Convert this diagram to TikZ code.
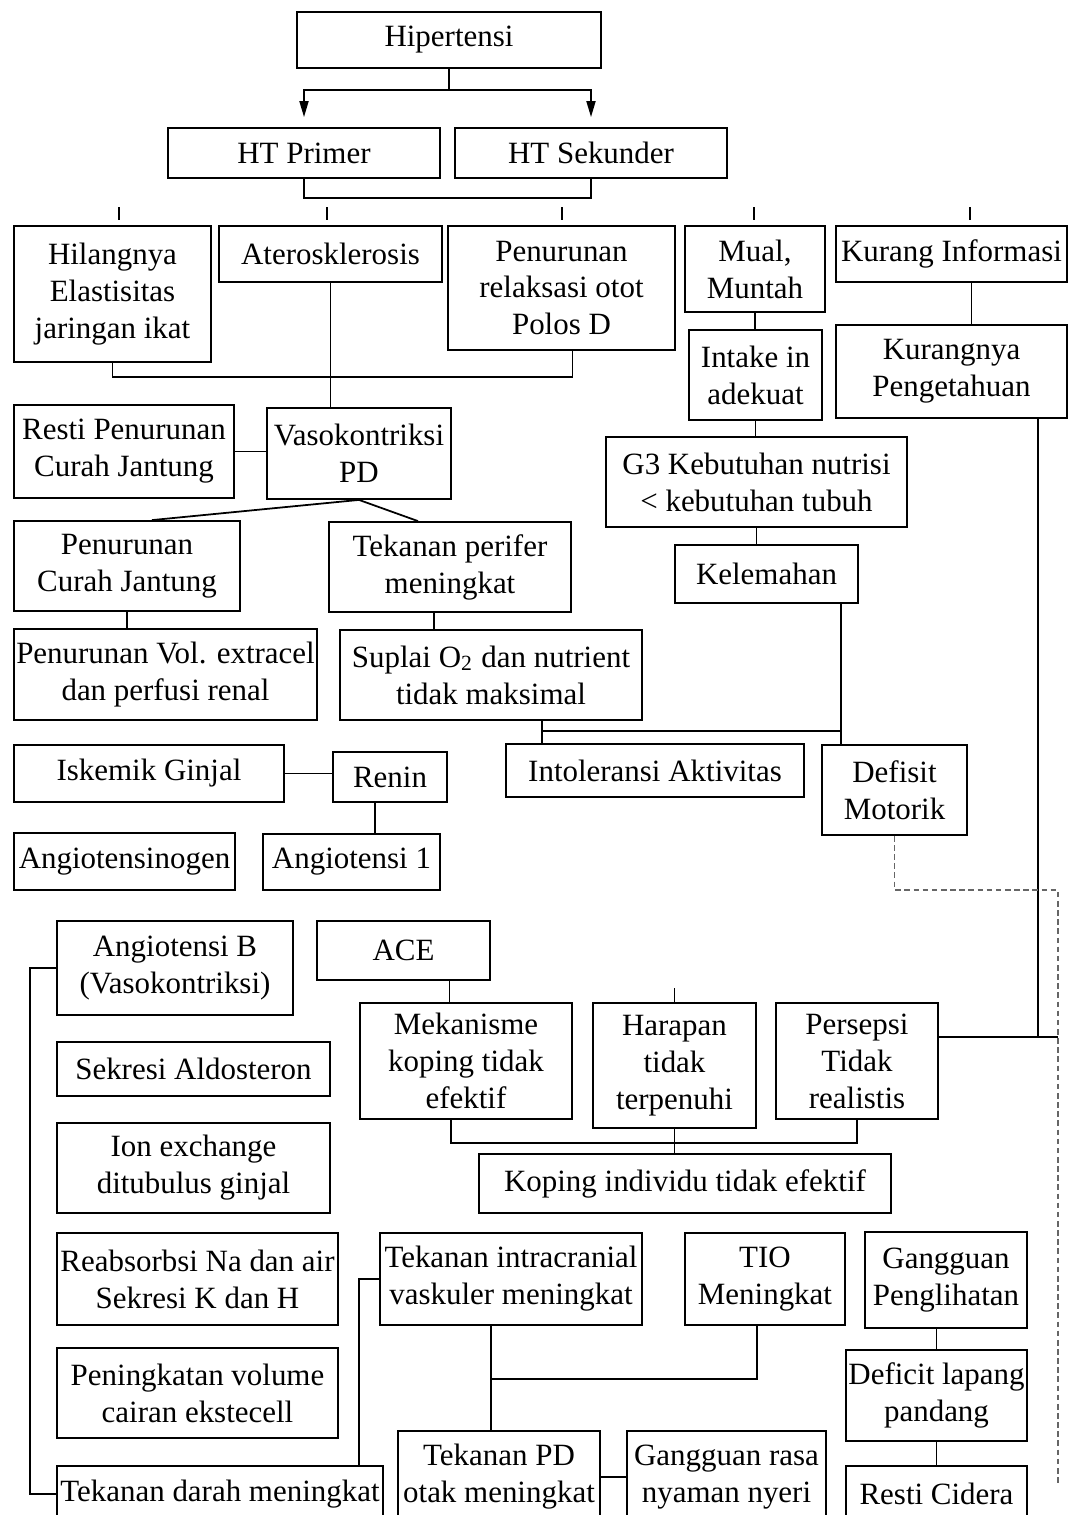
\documentclass[tikz,border=0pt]{standalone}
\usepackage{fontspec}
\setmainfont{Liberation Serif}
\usetikzlibrary{positioning,calc,arrows.meta}

\tikzset{
    box/.style={draw, line width=0.5pt, align=center, inner sep=0pt, font=\fontsize{8.8}{10.5}\selectfont},
    link/.style={line width=0.5pt},
    arr/.style={link, -{Triangle[length=0.16cm, width=0.09cm]}, shorten >=0.1cm}
}

\begin{document}
\begin{tikzpicture}[x=0.01cm, y=-0.01cm]
    \useasboundingbox (0, 0) rectangle (1069, 1515);
    \clip (0, 0) rectangle (1069, 1515);

    % Top
    \node [box, minimum width=3.04cm, minimum height=0.56cm] (hip) at (449, 40) {Hipertensi};
    \node [box, minimum width=2.72cm, minimum height=0.50cm] (prim) at (304, 153) {HT Primer};
    \node [box, minimum width=2.72cm, minimum height=0.50cm] (sek) at (591, 153) {HT Sekunder};
    \coordinate (split) at (449, 90);
    \draw [link] (hip.south) -- (split);
    \draw [arr] (split) -| (prim.north);
    \draw [arr] (split) -| (sek.north);
    \draw [link] (prim.south) -- ++(0, 19) -| (sek.south);
    \foreach \x in {119, 327, 562, 754, 970}
        \draw [link] (\x, 207) -- (\x, 220);

    % Causes
    \node [box, minimum width=1.97cm, minimum height=1.36cm] (hil) at (112.5, 294) {Hilangnya\\Elastisitas\\jaringan ikat};
    \node [box, minimum width=2.23cm, minimum height=0.56cm] (ater) at (330.5, 254) {Aterosklerosis};
    \node [box, minimum width=2.27cm, minimum height=1.24cm] (relak) at (561.5, 288) {Penurunan\\relaksasi otot\\Polos D};
    \node [box, minimum width=1.40cm, minimum height=0.86cm] (mual) at (755, 269) {Mual,\\Muntah};
    \node [box, minimum width=2.31cm, minimum height=0.56cm] (info) at (951.5, 254) {Kurang Informasi};
    \draw [link] (hil.south) -- ++(0, 14) -| ([xshift=0.11cm]relak.south);

    % Vasokontriksi
    \node [box, minimum width=2.20cm, minimum height=0.93cm] (resti) at (124, 451.5) {Resti Penurunan\\Curah Jantung};
    \node [box, minimum width=1.84cm, minimum height=0.91cm] (vaso) at (359, 453.5) {Vasokontriksi\\PD};
    \draw [link] (ater.south) -- (ater.south |- vaso.north);
    \draw [link] (resti.east) -- (resti.east -| vaso.west);
    \node [box, minimum width=2.26cm, minimum height=0.90cm] (pcj) at (127, 566) {Penurunan\\Curah Jantung};
    \node [box, minimum width=2.42cm, minimum height=0.90cm] (perifer) at (450, 567) {Tekanan perifer\\meningkat};
    \draw [link] ([xshift=0.25cm]pcj.north) -- (vaso.south) -- ([xshift=-0.32cm]perifer.north);
    \node [box, minimum width=3.03cm, minimum height=0.91cm] (vol) at (165.5, 674.5) {Penurunan Vol. extracel\\dan perfusi renal};
    \node [box, minimum width=3.02cm, minimum height=0.90cm] (suplai) at (491, 675) {Suplai O\textsubscript{2} dan nutrient\\tidak maksimal};
    \draw [link] (pcj.south) -- (pcj.south |- vol.north);
    \draw [link] ([xshift=-0.16cm]perifer.south) -- ([xshift=-0.16cm]perifer.south |- suplai.north);

    % Nutrisi
    \node [box, minimum width=1.33cm, minimum height=0.90cm] (intake) at (755.5, 375) {Intake in\\adekuat};
    \node [box, minimum width=2.31cm, minimum height=0.93cm] (tahu) at (951.5, 371.5) {Kurangnya\\Pengetahuan};
    \node [box, minimum width=3.01cm, minimum height=0.90cm] (nutri) at (756.5, 482) {G3 Kebutuhan nutrisi\\< kebutuhan tubuh};
    \node [box, minimum width=1.83cm, minimum height=0.58cm] (lemah) at (766.5, 574) {Kelemahan};
    \draw [link] (mual.south) -- (mual.south |- intake.north);
    \draw [link] ([xshift=0.2cm]info.south) -- ([xshift=0.2cm]tahu.north);
    \draw [link] (intake.south) -- (intake.south |- nutri.north);
    \draw [link] (nutri.south) -- (nutri.south |- lemah.north);

    % Aktivitas
    \node [box, minimum width=2.98cm, minimum height=0.53cm] (intol) at (655, 770.5) {Intoleransi Aktivitas};
    \node [box, minimum width=1.45cm, minimum height=0.90cm] (motorik) at (894.5, 790) {Defisit\\Motorik};
    \coordinate (lm) at ([xshift=-0.18cm]lemah.south east);
    \coordinate (sp) at ([xshift=0.51cm]suplai.south);
    \coordinate (tj) at (542, 731);
    \draw [link] (lm) -- (lm |- motorik.north);
    \draw [link] (sp) -- (sp |- intol.north);
    \draw [link] (tj) -- (tj -| lm);

    % Renin
    \node [box, minimum width=2.70cm, minimum height=0.57cm] (iskemik) at (149, 773.5) {Iskemik Ginjal};
    \node [box, minimum width=1.14cm, minimum height=0.50cm] (renin) at (390, 777) {Renin};
    \node [box, minimum width=2.21cm, minimum height=0.57cm] (angtg) at (124.5, 861.5) {Angiotensinogen};
    \node [box, minimum width=1.77cm, minimum height=0.56cm] (ang1) at (351.5, 862) {Angiotensi 1};
    \draw [link] (iskemik.east) -- (iskemik.east -| renin.west);
    \draw [link] ([xshift=-0.15cm]renin.south) -- ([xshift=-0.15cm]renin.south |- ang1.north);

    % Koping
    \node [box, minimum width=2.36cm, minimum height=0.94cm] (angB) at (175, 968) {Angiotensi B\\(Vasokontriksi)};
    \node [box, minimum width=1.73cm, minimum height=0.59cm] (ace) at (403.5, 950.5) {ACE};
    \node [box, minimum width=2.12cm, minimum height=1.16cm] (meka) at (466, 1061) {Mekanisme\\koping tidak\\efektif};
    \node [box, minimum width=1.63cm, minimum height=1.25cm] (harap) at (674.5, 1065.5) {Harapan\\tidak\\terpenuhi};
    \node [box, minimum width=1.62cm, minimum height=1.16cm] (persep) at (857, 1061) {Persepsi\\Tidak\\realistis};
    \node [box, minimum width=4.12cm, minimum height=0.59cm] (koping) at (685, 1183.5) {Koping individu tidak efektif};
    \draw [link] ([xshift=0.46cm]ace.south) -- ([xshift=0.46cm]ace.south |- meka.north);
    \draw [link] (harap.north) -- ++(0, -14);
    \draw [link] ([xshift=-0.15cm]meka.south) -- ++(0, 23) -| (persep.south);
    \draw [link] (harap.south) -- (harap.south |- koping.north);

    % Right side
    \coordinate (dcol) at (1058, 890);
    \coordinate (dend) at (1058, 1483);
    \coordinate (pe) at ([yshift=0.24cm]persep.east);
    \coordinate (tk) at ([xshift=0.865cm]tahu.south);
    \draw [link] (pe) -- (pe -| dcol);
    \draw [link] (tk) -- (tk |- pe);
    \draw [link, dashed, dash pattern=on 1.6pt off 1pt, gray!80!black] (motorik.south) |- (dcol) -- (dend);

    % Ginjal
    \node [box, minimum width=2.73cm, minimum height=0.54cm] (aldo) at (193.5, 1069) {Sekresi Aldosteron};
    \node [box, minimum width=2.73cm, minimum height=0.90cm] (ion) at (193.5, 1168) {Ion exchange\\ditubulus ginjal};
    \node [box, minimum width=2.81cm, minimum height=0.92cm] (reab) at (197.5, 1279) {Reabsorbsi Na dan air\\Sekresi K dan H};
    \node [box, minimum width=2.81cm, minimum height=0.90cm] (ekst) at (197.5, 1393) {Peningkatan volume\\cairan ekstecell};
    \node [box, minimum width=3.26cm, minimum height=0.56cm] (darah) at (220, 1494) {Tekanan darah meningkat};
    \draw [link] (angB.west) -- ++(-26, 0) |- (darah.west);

    % Bottom
    \node [box, minimum width=2.62cm, minimum height=0.92cm] (tik) at (511, 1279) {Tekanan intracranial\\vaskuler meningkat};
    \node [box, minimum width=1.60cm, minimum height=0.92cm] (tio) at (765, 1279) {TIO\\Meningkat};
    \node [box, minimum width=1.62cm, minimum height=0.96cm] (lihat) at (946, 1280) {Gangguan\\Penglihatan};
    \node [box, minimum width=1.81cm, minimum height=0.91cm] (lapang) at (936.5, 1395.5) {Deficit lapang\\pandang};
    \node [box, minimum width=2.02cm, minimum height=0.92cm] (tpd) at (499, 1477) {Tekanan PD\\otak meningkat};
    \node [box, minimum width=1.99cm, minimum height=0.92cm] (nyeri) at (726.5, 1477) {Gangguan rasa\\nyaman nyeri};
    \node [box, minimum width=1.81cm, minimum height=0.56cm] (cidera) at (936.5, 1494) {Resti Cidera};
    \coordinate (tj2) at (491, 1379);
    \draw [link] ([xshift=-0.25cm]darah.north east) |- (tik.west);
    \draw [link] ([xshift=-0.2cm]tik.south) -- ([xshift=-0.2cm]tik.south |- tpd.north);
    \draw [link] ([xshift=-0.08cm]tio.south) |- (tj2);
    \draw [link] (tpd.east) -- (tpd.east -| nyeri.west);
    \draw [link] (lapang.north) -- (lapang.north |- lihat.south);
    \draw [link] (lapang.south) -- (lapang.south |- cidera.north);
\end{tikzpicture}
\end{document}
